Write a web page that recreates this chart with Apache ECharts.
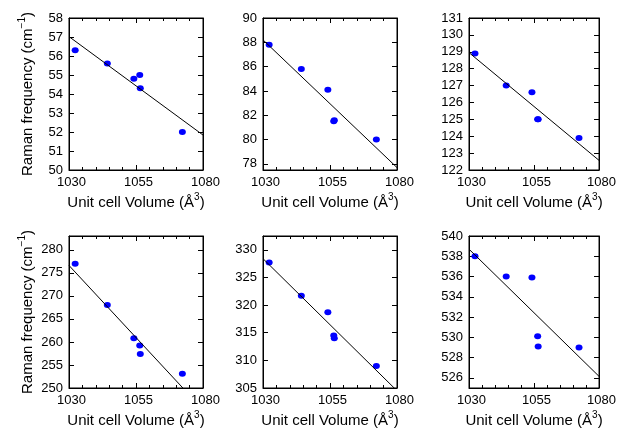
<!DOCTYPE html>
<html>
<head>
<meta charset="utf-8">
<script src="https://cdn.jsdelivr.net/npm/echarts@6/dist/echarts.min.js"></script>
<style>
  html, body { margin: 0; padding: 0; background: #ffffff; }
  #chart { width: 619px; height: 430px; }
</style>
</head>
<body>
<div id="chart"></div>
<script>
// Unit cell volumes (Å^3) shared by all six Raman modes
const volumes = [1032.3, 1044.3, 1054.2, 1056.4, 1056.6, 1072.3];

// Raman frequencies (cm^-1) of each mode at those volumes
const mode1 = [56.3, 55.6, 54.8, 55.0, 54.3, 52.0];
const mode2 = [87.8, 85.8, 84.1, 81.5, 81.6, 80.0];
const mode3 = [128.9, 127.0, 126.6, 125.0, 125.0, 123.9];
const mode4 = [277.0, 268.0, 260.8, 259.2, 257.4, 253.1];
const mode5 = [327.7, 321.7, 318.7, 314.5, 314.0, 309.0];
const mode6 = [538.0, 536.0, 535.9, 530.1, 529.1, 529.0];

// Linear fit of each mode, value at both ends of the volume range
const fitVolumes = [1030, 1080];
const fitAt1030 = [57.02, 88.2, 128.95, 276.6, 328.4, 538.7];
const fitAt1080 = [51.84, 77.7, 122.57, 245.3, 304.5, 526.15];

// Axis ranges and tick labels
const xTicks = [1030, 1055, 1080];
const yMin = [50, 77.5, 122, 250, 305, 525];
const yMax = [58, 90, 131, 283, 332.5, 540];
const yTicks1 = [50, 51, 52, 53, 54, 55, 56, 57, 58];
const yTicks2 = [78, 80, 82, 84, 86, 88, 90];
const yTicks3 = [122, 123, 124, 125, 126, 127, 128, 129, 130, 131];
const yTicks4 = [250, 255, 260, 265, 270, 275, 280];
const yTicks5 = [305, 310, 315, 320, 325, 330];
const yTicks6 = [526, 528, 530, 532, 534, 536, 538, 540];

const modes = [mode1, mode2, mode3, mode4, mode5, mode6];
const yTicks = [yTicks1, yTicks2, yTicks3, yTicks4, yTicks5, yTicks6];

const FONT = '"Liberation Sans", Arial, Helvetica, sans-serif';
const INK = '#000000';
const DOT = '#0000ff';

const lefts = [69, 263, 469];
const tops = [18, 236];
const W = 134, H = 152;

const xName = '{t|Unit cell Volume (Å}{s|3}{t|)}';
const yName = '{t|Raman frequency (cm}{s|−1}{t|)}';
const nameRich = {
  t: { fontFamily: FONT, fontSize: 15, color: INK, lineHeight: 22 },
  s: { fontFamily: FONT, fontSize: 10, color: INK, lineHeight: 10, verticalAlign: 'top' }
};

const grids = [], xAxes = [], yAxes = [], series = [];

for (let i = 0; i < 6; i++) {
  const col = i % 3, row = Math.floor(i / 3);
  grids.push({
    left: lefts[col], top: tops[row], width: W, height: H,
    show: true, borderColor: INK, borderWidth: 1, backgroundColor: 'transparent'
  });

  const xBase = {
    type: 'value', gridIndex: i, min: xTicks[0], max: xTicks[xTicks.length - 1],
    interval: xTicks[1] - xTicks[0],
    axisLine: { show: true, onZero: false, lineStyle: { color: INK, width: 1 } },
    axisTick: { show: true, inside: true, length: 5, lineStyle: { color: INK, width: 1 } },
    minorTick: { show: true, splitNumber: 5, length: 3, lineStyle: { color: INK, width: 1 } },
    splitLine: { show: false }, minorSplitLine: { show: false }
  };
  // bottom axis with labels and title
  xAxes.push(Object.assign({}, xBase, {
    position: 'bottom',
    axisLabel: {
      show: true, fontFamily: FONT, fontSize: 13, color: INK, margin: 6,
      padding: [0, 0, 0, 5], showMinLabel: true, showMaxLabel: true,
      formatter: (v) => String(v)
    },
    name: xName, nameLocation: 'middle', nameGap: 22,
    nameTextStyle: { rich: nameRich }
  }));
  // top axis: ticks only
  xAxes.push(Object.assign({}, xBase, {
    position: 'top', axisLabel: { show: false }
  }));

  const yBase = {
    type: 'value', gridIndex: i, min: yMin[i], max: yMax[i],
    axisLine: { show: true, onZero: false, lineStyle: { color: INK, width: 1 } },
    axisTick: { show: true, inside: true, length: 5, customValues: yTicks[i],
                lineStyle: { color: INK, width: 1 } },
    splitLine: { show: false }
  };
  const yLeft = Object.assign({}, yBase, {
    position: 'left',
    axisLabel: {
      show: true, customValues: yTicks[i], fontFamily: FONT, fontSize: 13,
      color: INK, margin: 6, formatter: (v) => String(v)
    }
  });
  if (col === 0) {
    yLeft.name = yName;
    yLeft.nameLocation = 'middle';
    yLeft.nameRotate = 90;
    yLeft.nameGap = 30;
    yLeft.nameTextStyle = { rich: nameRich };
  }
  yAxes.push(yLeft);
  yAxes.push(Object.assign({}, yBase, {
    position: 'right', axisLabel: { show: false }
  }));

  series.push({
    type: 'scatter', xAxisIndex: 2 * i, yAxisIndex: 2 * i,
    symbol: 'circle', symbolSize: [7, 6],
    itemStyle: { color: DOT, opacity: 1 },
    data: volumes.map((v, k) => [v, modes[i][k]]),
    z: 2, silent: true
  });
  series.push({
    type: 'line', xAxisIndex: 2 * i, yAxisIndex: 2 * i,
    showSymbol: false, symbol: 'none', clip: true,
    lineStyle: { color: INK, width: 1 },
    data: [[fitVolumes[0], fitAt1030[i]], [fitVolumes[1], fitAt1080[i]]],
    z: 3, silent: true
  });
}

const chart = echarts.init(document.getElementById('chart'), null, { renderer: 'canvas' });
chart.setOption({
  animation: false,
  backgroundColor: '#ffffff',
  textStyle: { fontFamily: FONT },
  grid: grids,
  xAxis: xAxes,
  yAxis: yAxes,
  series: series
});
</script>
</body>
</html>
